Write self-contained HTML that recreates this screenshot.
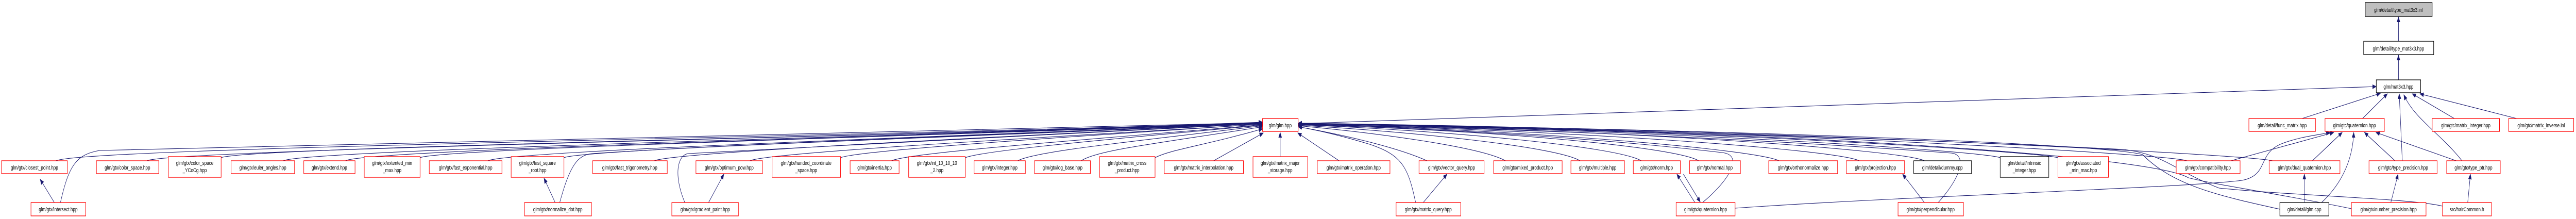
<!DOCTYPE html>
<html><head><meta charset="utf-8"><style>
html,body{margin:0;padding:0;background:#fff;width:100%;height:100%;overflow:hidden;}
svg{display:block;width:100vw;height:100vh;}
text{font-family:"Liberation Sans",Arial,sans-serif;font-size:11px;fill:#000;text-anchor:middle;}
.r{fill:#fff;stroke:#ff0000;stroke-width:1.3;}
.k{fill:#fff;stroke:#000;stroke-width:1.3;}
.g{fill:#bfbfbf;stroke:#000;stroke-width:1.3;}
.e{fill:none;stroke:#191970;stroke-width:1.1;}
</style></head><body>
<svg viewBox="0 0 6733 425" preserveAspectRatio="none" xmlns="http://www.w3.org/2000/svg">
<defs><marker id="a" markerUnits="userSpaceOnUse" markerWidth="11" markerHeight="9" refX="10" refY="4.5" orient="auto"><path d="M0,0 L11,4.5 L0,9 z" fill="#191970"/></marker></defs>

<g class="e" marker-end="url(#a)">
<path d="M146,312 C220,285 2500,262 3300,237"/>
<path d="M158,393 C180,320 200,300 260,292 C900,275 2500,258 3300,238"/>
<path d="M384,312 C440,290 2500,262 3300,238"/>
<path d="M578,306 C640,285 2500,262 3300,238"/>
<path d="M740,312 C800,290 2500,262 3300,238"/>
<path d="M903,312 C950,290 2500,262 3300,239"/>
<path d="M1098,306 C1150,288 2500,262 3300,239"/>
<path d="M1275,312 C1330,292 2600,262 3300,239"/>
<path d="M1474,306 C1520,290 2600,262 3300,239"/>
<path d="M1463,393 C1490,320 1510,300 1550,298 C1900,280 2700,260 3300,240"/>
<path d="M1710,312 C1760,295 2700,262 3300,240"/>
<path d="M1790,393 C1760,340 1770,300 1800,298 C2200,280 2800,260 3300,240"/>
<path d="M1960,312 C2010,295 2800,264 3300,241"/>
<path d="M2197,306 C2240,292 2800,265 3300,241"/>
<path d="M2330,312 C2380,295 2900,268 3300,242"/>
<path d="M2523,306 C2570,292 2900,270 3300,243"/>
<path d="M2660,312 C2710,292 3000,272 3300,244"/>
<path d="M2826,312 C2870,290 3050,276 3300,246"/>
<path d="M3019,306 C3060,290 3150,282 3300,250"/>
<path d="M3172,312 L3302,258"/>
<path d="M3346,304 L3346,257"/>
</g>
<g class="e" marker-end="url(#a)">
<path d="M3500,312 L3392,258"/>
<path d="M3730,312 C3650,285 3500,260 3393,246"/>
<path d="M3700,393 C3680,320 3660,300 3580,280 C3500,262 3440,252 3393,246"/>
<path d="M3935,312 C3870,285 3600,258 3393,244"/>
<path d="M4130,312 C4070,285 3700,256 3393,243"/>
<path d="M4290,312 C4230,285 3800,254 3393,242"/>
<path d="M4440,312 C4380,285 3900,252 3393,242"/>
<path d="M4450,393 C4520,350 4560,300 4500,296 C4200,270 3800,250 3393,242"/>
<path d="M4650,312 C4590,290 4000,252 3393,241"/>
<path d="M4860,312 C4800,290 4100,252 3393,241"/>
<path d="M5066,393 C5130,340 5140,300 5100,297 C4600,270 4000,250 3393,241"/>
<path d="M5030,312 C4970,290 4200,250 3393,240"/>
<path d="M5228,306 C5170,292 4300,250 3393,240"/>
<path d="M5379,306 C5320,294 4400,250 3393,240"/>
<path d="M5716,312 C5660,298 4500,250 3393,239"/>
<path d="M5940,312 C5880,300 4600,250 3393,239"/>
<path d="M5959,406 C5800,380 5680,360 5600,300 C5500,280 4600,252 3393,240"/>
<path d="M6146,405 C5950,375 5800,360 5720,345 C5620,300 4600,252 3393,240"/>
<path d="M6384,400 C6300,385 6000,380 5800,365 C5680,330 5660,300 5550,290 C4600,255 3393,240 3393,240"/>
</g>
<g class="e" marker-end="url(#a)">
<path d="M3393,240 L6211,168"/>
<path d="M6269,80 L6269,33"/>
<path d="M6269,155 L6269,107"/>
<path d="M6017,230 L6222,181"/>
<path d="M6175,230 L6240,182"/>
<path d="M6279,312 L6271,182"/>
<path d="M6435,312 C6380,260 6310,230 6283,184"/>
<path d="M6415,230 L6305,182"/>
<path d="M6578,230 L6325,182"/>
<path d="M5831,312 L6100,257"/>
<path d="M6044,312 L6122,257"/>
<path d="M6260,312 L6180,257"/>
<path d="M6420,312 L6210,257"/>
<path d="M6068,393 C6130,350 6150,300 6152,257"/>
<path d="M4535,404 C5000,380 5700,365 5860,350 C5930,340 5900,300 5960,280 C6010,265 6060,262 6090,257"/>
<path d="M6249,393 L6268,338"/>
<path d="M6450,393 L6457,338"/>
<path d="M6023,393 L6023,338"/>
<path d="M142,393 L105,348"/>
<path d="M1451,393 L1422,346"/>
<path d="M1852,393 L1892,338"/>
<path d="M3720,393 L3782,338"/>
<path d="M4430,393 L4383,338"/>
<path d="M4400,338 L4444,392"/>
<path d="M5030,393 L4973,338"/>
</g>

<rect class="g" x="6182" y="5" width="175" height="27"/><text x="6269" y="23">glm/detail/type_mat3x3.inl</text>
<rect class="k" x="6178" y="80" width="183" height="26"/><text x="6269" y="98">glm/detail/type_mat3x3.hpp</text>
<rect class="k" x="6211" y="155" width="116" height="25"/><text x="6269" y="172">glm/mat3x3.hpp</text>

<rect class="r" x="3300" y="230" width="93" height="25"/><text x="3346" y="247">glm/glm.hpp</text>
<rect class="r" x="5878" y="230" width="174" height="25"/><text x="5965" y="247">glm/detail/func_matrix.hpp</text>
<rect class="r" x="6077" y="230" width="155" height="25"/><text x="6154" y="247">glm/gtc/quaternion.hpp</text>
<rect class="r" x="6357" y="230" width="176" height="25"/><text x="6445" y="247">glm/gtc/matrix_integer.hpp</text>
<rect class="r" x="6557" y="230" width="170" height="25"/><text x="6642" y="247">glm/gtc/matrix_inverse.inl</text>

<rect class="r" x="4" y="312" width="172" height="25"/><text x="90" y="329">glm/gtx/closest_point.hpp</text>
<rect class="r" x="252" y="312" width="163" height="25"/><text x="333" y="329">glm/gtx/color_space.hpp</text>
<rect class="r" x="440" y="304" width="138" height="40"/><text x="509" y="320">glm/gtx/color_space</text><text x="509" y="334">_YCoCg.hpp</text>
<rect class="r" x="604" y="312" width="166" height="25"/><text x="687" y="329">glm/gtx/euler_angles.hpp</text>
<rect class="r" x="794" y="312" width="134" height="25"/><text x="861" y="329">glm/gtx/extend.hpp</text>
<rect class="r" x="952" y="304" width="146" height="40"/><text x="1025" y="320">glm/gtx/extented_min</text><text x="1025" y="334">_max.hpp</text>
<rect class="r" x="1122" y="312" width="190" height="25"/><text x="1217" y="329">glm/gtx/fast_exponential.hpp</text>
<rect class="r" x="1336" y="304" width="138" height="40"/><text x="1405" y="320">glm/gtx/fast_square</text><text x="1405" y="334">_root.hpp</text>
<rect class="r" x="1549" y="312" width="195" height="25"/><text x="1646" y="329">glm/gtx/fast_trigonometry.hpp</text>
<rect class="r" x="1819" y="312" width="174" height="25"/><text x="1906" y="329">glm/gtx/optimum_pow.hpp</text>
<rect class="r" x="2018" y="304" width="179" height="40"/><text x="2107" y="320">glm/gtx/handed_coordinate</text><text x="2107" y="334">_space.hpp</text>
<rect class="r" x="2222" y="312" width="128" height="25"/><text x="2286" y="329">glm/gtx/inertia.hpp</text>
<rect class="r" x="2375" y="304" width="148" height="40"/><text x="2449" y="320">glm/gtx/int_10_10_10</text><text x="2449" y="334">_2.hpp</text>
<rect class="r" x="2546" y="312" width="134" height="25"/><text x="2613" y="329">glm/gtx/integer.hpp</text>
<rect class="r" x="2704" y="312" width="146" height="25"/><text x="2777" y="329">glm/gtx/log_base.hpp</text>
<rect class="r" x="2874" y="304" width="145" height="40"/><text x="2946" y="320">glm/gtx/matrix_cross</text><text x="2946" y="334">_product.hpp</text>
<rect class="r" x="3043" y="312" width="207" height="25"/><text x="3146" y="329">glm/gtx/matrix_interpolation.hpp</text>
<rect class="r" x="3275" y="304" width="143" height="40"/><text x="3346" y="320">glm/gtx/matrix_major</text><text x="3346" y="334">_storage.hpp</text>
<rect class="r" x="3443" y="312" width="190" height="25"/><text x="3538" y="329">glm/gtx/matrix_operation.hpp</text>
<rect class="r" x="3709" y="312" width="170" height="25"/><text x="3794" y="329">glm/gtx/vector_query.hpp</text>
<rect class="r" x="3904" y="312" width="179" height="25"/><text x="3993" y="329">glm/gtx/mixed_product.hpp</text>
<rect class="r" x="4106" y="312" width="140" height="25"/><text x="4176" y="329">glm/gtx/multiple.hpp</text>
<rect class="r" x="4269" y="312" width="123" height="25"/><text x="4330" y="329">glm/gtx/norm.hpp</text>
<rect class="r" x="4416" y="312" width="133" height="25"/><text x="4482" y="329">glm/gtx/normal.hpp</text>
<rect class="r" x="4623" y="312" width="180" height="25"/><text x="4713" y="329">glm/gtx/orthonormalize.hpp</text>
<rect class="r" x="4826" y="312" width="152" height="25"/><text x="4902" y="329">glm/gtx/projection.hpp</text>
<rect class="k" x="5002" y="312" width="151" height="25"/><text x="5077" y="329">glm/detail/dummy.cpp</text>
<rect class="k" x="5228" y="304" width="127" height="40"/><text x="5291" y="320">glm/detail/intrinsic</text><text x="5291" y="334">_integer.hpp</text>
<rect class="r" x="5379" y="304" width="132" height="40"/><text x="5445" y="320">glm/gtx/associated</text><text x="5445" y="334">_min_max.hpp</text>
<rect class="r" x="5688" y="312" width="167" height="25"/><text x="5771" y="329">glm/gtx/compatibility.hpp</text>
<rect class="r" x="5931" y="312" width="185" height="25"/><text x="6023" y="329">glm/gtx/dual_quaternion.hpp</text>
<rect class="r" x="6192" y="312" width="178" height="25"/><text x="6281" y="329">glm/gtc/type_precision.hpp</text>
<rect class="r" x="6395" y="312" width="140" height="25"/><text x="6465" y="329">glm/gtc/type_ptr.hpp</text>

<rect class="r" x="81" y="393" width="143" height="26"/><text x="152" y="410">glm/gtx/intersect.hpp</text>
<rect class="r" x="1371" y="393" width="175" height="26"/><text x="1458" y="410">glm/gtx/normalize_dot.hpp</text>
<rect class="r" x="1756" y="393" width="174" height="26"/><text x="1843" y="410">glm/gtx/gradient_paint.hpp</text>
<rect class="r" x="3649" y="393" width="169" height="26"/><text x="3733" y="410">glm/gtx/matrix_query.hpp</text>
<rect class="r" x="4381" y="393" width="154" height="26"/><text x="4458" y="410">glm/gtx/quaternion.hpp</text>
<rect class="r" x="4961" y="393" width="171" height="26"/><text x="5046" y="410">glm/gtx/perpendicular.hpp</text>
<rect class="k" x="5959" y="393" width="128" height="26"/><text x="6023" y="410">glm/detail/glm.cpp</text>
<rect class="r" x="6146" y="393" width="195" height="26"/><text x="6243" y="410">glm/gtx/number_precision.hpp</text>
<rect class="r" x="6384" y="393" width="128" height="26"/><text x="6448" y="410">src/hairCommon.h</text>
</svg>
</body></html>
